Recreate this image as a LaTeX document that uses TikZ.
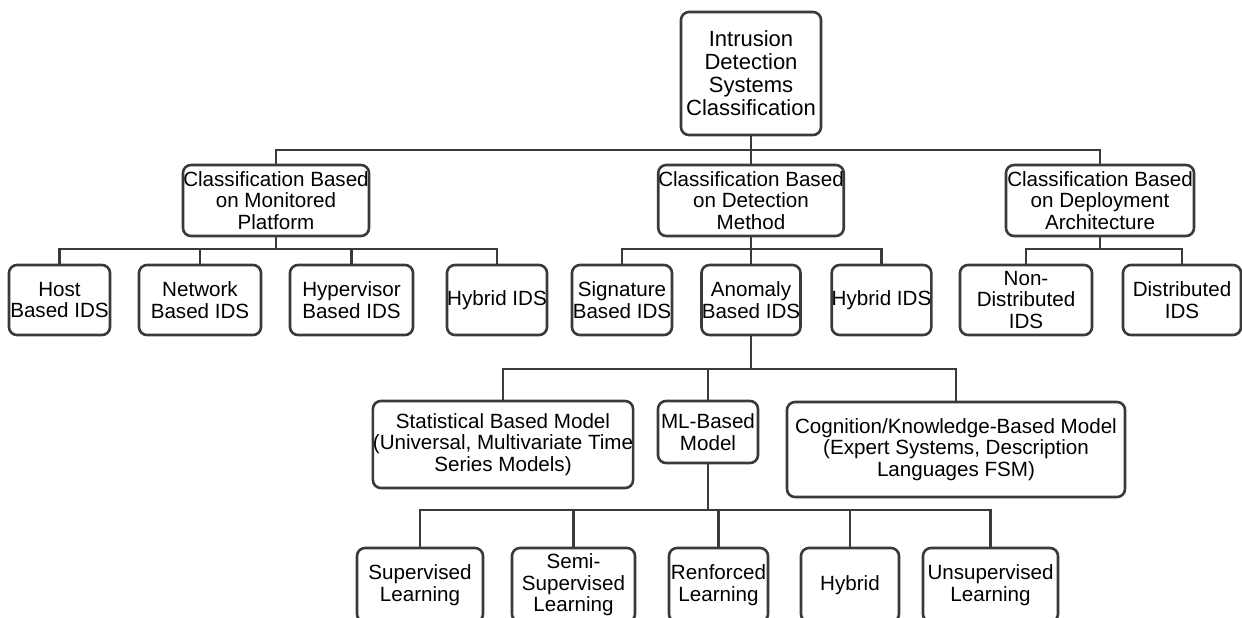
\documentclass[tikz,border=0pt]{standalone}
\usepackage{fontspec}
\setmainfont{Liberation Sans}
\usepackage{xcolor}
\definecolor{linegray}{HTML}{3A3A3A}

\begin{document}
\begin{tikzpicture}[x=0.5pt, y=-0.5pt,
    box/.style={draw=linegray, line width=1.3pt, rounded corners=4pt, align=center, inner sep=0pt, font=\fontsize{10.3}{10.8}\selectfont},
    wh/.style 2 args={minimum width=#1, minimum height=#2},
    link/.style={draw=linegray, line width=1.2pt}]
    \useasboundingbox (0,0) rectangle (1242,617);
    \clip (0,0) rectangle (1242,617);

    \node[box, wh={70pt}{61.5pt}, font=\fontsize{11}{11.5}\selectfont] (root) at (751,73.5) {Intrusion\\Detection\\Systems\\Classification};

    \node[box, wh={93pt}{35.5pt}] (mon) at (276,200.5) {Classification Based\\on Monitored\\Platform};
    \node[box, wh={88pt}{35.5pt}] (det) at (751,200.5) {Classification Based\\on Detection\\Method};
    \node[box, wh={94pt}{35.5pt}] (dep) at (1100,200.5) {Classification Based\\on Deployment\\Architecture};

    \node[box, wh={50.5pt}{35pt}] (host) at (59.5,300) {Host\\Based IDS};
    \node[box, wh={61pt}{35pt}] (net) at (200,300) {Network\\Based IDS};
    \node[box, wh={61.5pt}{35pt}] (hyp) at (351.5,300) {Hypervisor\\Based IDS};
    \node[box, wh={50pt}{35pt}] (hybA) at (497,300) {Hybrid IDS};
    \node[box, wh={50pt}{35pt}] (sig) at (622,300) {Signature\\Based IDS};
    \node[box, wh={49.5pt}{35pt}] (ano) at (751,300) {Anomaly\\Based IDS};
    \node[box, wh={49.5pt}{35pt}] (hybB) at (881.5,300) {Hybrid IDS};
    \node[box, wh={66pt}{35pt}] (nondist) at (1026,300) {Non-\\Distributed\\IDS};
    \node[box, wh={59pt}{35pt}] (dist) at (1182,300) {Distributed\\IDS};

    \node[box, wh={125pt}{43.5pt}] (stat) at (503,444.5) {Statistical Based Model\\(Universal, Multivariate Time\\Series Models)};
    \node[box, wh={50pt}{31pt}] (ml) at (708,432) {ML-Based\\Model};
    \node[box, wh={169pt}{47.5pt}] (cog) at (956,449.5) {Cognition/Knowledge-Based Model\\(Expert Systems, Description\\Languages FSM)};

    \node[box, wh={63pt}{37pt}] (sup) at (420,585) {Supervised\\Learning};
    \node[box, wh={61.5pt}{37pt}] (semi) at (573.5,585) {Semi-\\Supervised\\Learning};
    \node[box, wh={49.5pt}{37pt}] (ren) at (718.5,585) {Renforced\\Learning};
    \node[box, wh={49pt}{37pt}] (hybC) at (850,585) {Hybrid};
    \node[box, wh={67.5pt}{37pt}] (uns) at (990.5,585) {Unsupervised\\Learning};

    \coordinate (bus0) at (0,150);
    \coordinate (bus1) at (0,249);
    \coordinate (bus2) at (0,369);
    \coordinate (bus3) at (0,510);

    \foreach \c in {mon,det,dep}
        \draw[link] (root.south) -- (root.south |- bus0) -| (\c.north);
    \foreach \c in {host,net,hyp,hybA}
        \draw[link] (mon.south) -- (mon.south |- bus1) -| (\c.north);
    \foreach \c in {sig,ano,hybB}
        \draw[link] (det.south) -- (det.south |- bus1) -| (\c.north);
    \foreach \c in {nondist,dist}
        \draw[link] (dep.south) -- (dep.south |- bus1) -| (\c.north);
    \foreach \c in {stat,ml,cog}
        \draw[link] (ano.south) -- (ano.south |- bus2) -| (\c.north);
    \foreach \c in {sup,semi,ren,hybC,uns}
        \draw[link] (ml.south) -- (ml.south |- bus3) -| (\c.north);
\end{tikzpicture}
\end{document}
